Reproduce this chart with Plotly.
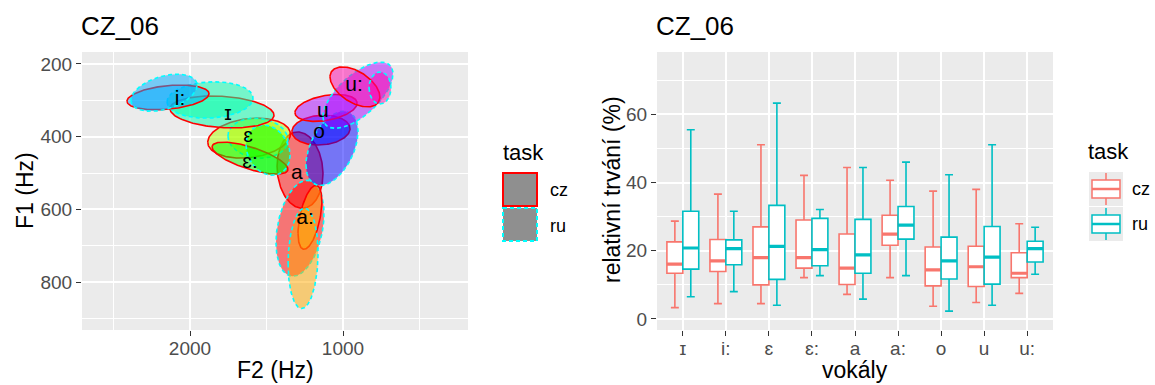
import numpy as np
import plotly.graph_objects as go

W, H = 1155, 385
FONT = "Liberation Sans, Arial, DejaVu Sans, sans-serif"

# ---------------- formant ellipses (F2/F1, Hz) ----------------
vowels = ["a", "a:", "ɛ", "ɛ:", "ɪ", "i:", "o", "u", "u:"]
vowel_colors = ["#FF0000", "#FFAA00", "#AAFF00", "#00FF00", "#00FFAA",
                "#00AAFF", "#0000FF", "#AA00FF", "#FF00AA"]

# task cz: centre, spread and F2-F1 correlation of each vowel ellipse
cz_f2 = [1281, 1216, 1614, 1608, 1791, 2144, 1144, 1111, 922]
cz_f1 = [492, 622, 404, 459, 332, 292, 382, 321, 263]
cz_f2_sd = [150, 78, 270, 248, 340, 268, 190, 203, 163]
cz_f1_sd = [105, 88, 55, 44, 44, 34, 41, 37, 55]
cz_rho = [-0.1, 0.5, 0.2, -0.7, -0.2, 0.3, 0.1, 0.35, -0.5]

# task ru
ru_f2 = [1281, 1261, 1556, 1490, 1869, 2170, 1072, 902, 758]
ru_f1 = [652, 735, 404, 437, 299, 279, 432, 286, 266]
ru_f2_sd = [157, 98, 196, 144, 281, 216, 170, 229, 72]
ru_f1_sd = [132, 138, 55, 69, 50, 51, 102, 91, 44]
ru_rho = [0.3, 0.1, -0.1, -0.2, 0.1, 0.4, 0.45, 0.65, 0.0]

# vowel label positions
label_f2 = [1301, 1248, 1621, 1608, 1752, 2065, 1157, 1131, 928]
label_f1 = [501, 625, 401, 473, 341, 299, 388, 332, 261]

# ---------------- relative duration boxplots (%) ----------------
box_vowels = ["ɪ", "i:", "ɛ", "ɛ:", "a", "a:", "o", "u", "u:"]
cz_lo = [3.3, 4.5, 4.5, 12.1, 7.2, 12.1, 3.7, 4.8, 7.5]
cz_q1 = [13.4, 13.9, 10.0, 14.9, 10.1, 21.6, 9.7, 9.5, 12.1]
cz_med = [16.1, 17.0, 18.0, 18.0, 14.9, 24.9, 14.4, 15.3, 13.4]
cz_q3 = [22.6, 23.3, 27.0, 29.0, 24.9, 30.4, 21.1, 21.3, 19.4]
cz_hi = [28.7, 36.6, 51.1, 42.1, 44.4, 40.7, 37.5, 38.0, 27.9]
ru_lo = [6.5, 8.0, 4.0, 12.7, 5.8, 12.7, 2.3, 4.0, 13.1]
ru_q1 = [14.6, 15.9, 11.6, 15.6, 13.4, 23.4, 11.7, 10.2, 16.7]
ru_med = [20.8, 20.6, 21.3, 20.3, 18.8, 27.5, 17.0, 18.1, 20.6]
ru_q3 = [31.6, 23.2, 33.3, 29.5, 29.2, 33.0, 24.0, 27.1, 22.8]
ru_hi = [55.5, 31.6, 63.3, 32.1, 44.4, 46.0, 42.3, 51.1, 26.9]

tasks = ["cz", "ru"]
task_line = {"cz": "#FF0000", "ru": "#00FFFF"}
task_box = {"cz": "#F8766D", "ru": "#00BFC4"}


def rgba(hex_color, a):
    h = hex_color.lstrip("#")
    r, g, b = int(h[0:2], 16), int(h[2:4], 16), int(h[4:6], 16)
    return f"rgba({r},{g},{b},{a})"


def ellipse(mx, my, sx, sy, rho, n=181):
    t = np.linspace(0, 2 * np.pi, n)
    x = mx + sx * np.cos(t)
    y = my + sy * (rho * np.cos(t) + np.sqrt(1 - rho * rho) * np.sin(t))
    return x, y


def px(x):
    return x / W


def py(y):
    return 1 - y / H


fig = go.Figure()

ell = {
    "cz": (cz_f2, cz_f1, cz_f2_sd, cz_f1_sd, cz_rho),
    "ru": (ru_f2, ru_f1, ru_f2_sd, ru_f1_sd, ru_rho),
}
for i, v in enumerate(vowels):
    for task in tasks:
        f2, f1, s2, s1, rr = ell[task]
        x, y = ellipse(f2[i], f1[i], s2[i], s1[i], rr[i])
        fig.add_trace(go.Scatter(
            x=x, y=y, mode="lines", fill="toself",
            fillcolor=rgba(vowel_colors[i], 0.5),
            line=dict(color=task_line[task], width=1.6,
                      dash="solid" if task == "cz" else "4px,3px"),
            showlegend=False, hoverinfo="skip", xaxis="x", yaxis="y"))

fig.add_trace(go.Scatter(
    x=label_f2, y=label_f1, mode="text", text=vowels,
    textfont=dict(family=FONT, size=21, color="black"),
    showlegend=False, hoverinfo="skip", xaxis="x", yaxis="y"))

box_stats = {
    "cz": (cz_lo, cz_q1, cz_med, cz_q3, cz_hi),
    "ru": (ru_lo, ru_q1, ru_med, ru_q3, ru_hi),
}
for task in tasks:
    lo, q1, med, q3, hi = box_stats[task]
    fig.add_trace(go.Box(
        x=box_vowels, q1=q1, median=med, q3=q3, lowerfence=lo, upperfence=hi,
        name=task, offsetgroup=task, fillcolor="white",
        line=dict(color=task_box[task], width=1.6),
        showlegend=False, hoverinfo="skip", xaxis="x2", yaxis="y2"))
    # heavier median bar on top of each box
    fig.add_trace(go.Box(
        x=box_vowels, q1=med, median=med, q3=med, lowerfence=med, upperfence=med,
        name=task, offsetgroup=task, fillcolor="rgba(0,0,0,0)",
        line=dict(color=task_box[task], width=3.2),
        showlegend=False, hoverinfo="skip", xaxis="x2", yaxis="y2"))

axis_common = dict(
    showgrid=True, gridcolor="white", gridwidth=1.6,
    ticks="outside", ticklen=5, tickwidth=1.3, tickcolor="#333333",
    tickfont=dict(family=FONT, size=19, color="#4D4D4D"),
    zeroline=False, showline=False, automargin=False,
)
ydom = [py(330), py(52)]

fig.update_layout(
    width=W, height=H,
    margin=dict(l=0, r=0, t=0, b=0),
    paper_bgcolor="white", plot_bgcolor="#EBEBEB",
    font=dict(family=FONT, color="black"),
    boxmode="group", boxgap=0.26, boxgroupgap=0.0,
    showlegend=False,
    xaxis=dict(domain=[px(82), px(468)], range=[2706, 183], tick0=0, dtick=1000,
               minor=dict(tick0=0, dtick=500, showgrid=True, gridcolor="white",
                          gridwidth=0.8, ticklen=0),
               ticklabelstandoff=-4, anchor="y", **axis_common),
    yaxis=dict(domain=ydom, range=[932, 167], tick0=0, dtick=200,
               minor=dict(tick0=0, dtick=100, showgrid=True, gridcolor="white",
                          gridwidth=0.8, ticklen=0),
               anchor="x", **axis_common),
    xaxis2=dict(domain=[px(657), px(1053)], type="category", range=[-0.6, 8.6],
                categoryorder="array", categoryarray=box_vowels,
                ticklabelstandoff=-4, anchor="y2", **axis_common),
    yaxis2=dict(domain=ydom, range=[-3.25, 78.3], tick0=0, dtick=20,
                minor=dict(tick0=0, dtick=10, showgrid=True, gridcolor="white",
                           gridwidth=0.8, ticklen=0),
                anchor="x2", **axis_common),
)

ann = []


def text(x, y, s, size, xanchor="left", angle=0, color="black"):
    ann.append(dict(x=px(x), y=py(y), xref="paper", yref="paper", text=s,
                    showarrow=False, xanchor=xanchor, yanchor="middle",
                    textangle=angle, borderpad=0,
                    font=dict(family=FONT, size=size, color=color)))


text(80, 26, "CZ_06", 26)
text(655, 26, "CZ_06", 26)
text(275, 370, "F2 (Hz)", 23, xanchor="center")
text(25, 191, "F1 (Hz)", 23, xanchor="center", angle=-90)
text(855, 370, "vokály", 23, xanchor="center")
text(612, 190, "relativní trvání (%)", 23, xanchor="center", angle=-90)

# legend of the ellipse panel
text(502, 152, "task", 22)
text(549, 190, "cz", 18)
text(549, 226, "ru", 18)
# legend of the boxplot panel
text(1087, 151, "task", 22)
text(1131, 189, "cz", 18)
text(1131, 224, "ru", 18)

shapes = []
for k, task in enumerate(tasks):
    y0 = 173 + k * 35
    shapes.append(dict(type="rect", xref="paper", yref="paper",
                       x0=px(503), x1=px(537), y0=py(y0), y1=py(y0 + 33),
                       fillcolor="#8F8F8F",
                       line=dict(color=task_line[task], width=2,
                                 dash="solid" if task == "cz" else "4px,3px")))
    ky = 172 + k * 35
    shapes.append(dict(type="rect", xref="paper", yref="paper",
                       x0=px(1089), x1=px(1123), y0=py(ky), y1=py(ky + 34),
                       fillcolor="#EBEBEB", line=dict(width=0)))
    c = task_box[task]
    shapes.append(dict(type="line", xref="paper", yref="paper",
                       x0=px(1106), x1=px(1106), y0=py(ky + 1), y1=py(ky + 33),
                       line=dict(color=c, width=1.5)))
    shapes.append(dict(type="rect", xref="paper", yref="paper",
                       x0=px(1092), x1=px(1120), y0=py(ky + 8), y1=py(ky + 26),
                       fillcolor="white", line=dict(color=c, width=1.5)))
    shapes.append(dict(type="line", xref="paper", yref="paper",
                       x0=px(1092), x1=px(1120), y0=py(ky + 17), y1=py(ky + 17),
                       line=dict(color=c, width=2.5)))

fig.update_layout(annotations=ann, shapes=shapes)
fig.write_html("out.html")
